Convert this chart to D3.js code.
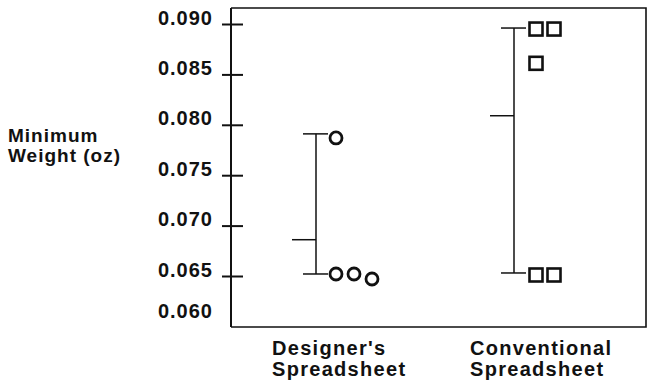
<!DOCTYPE html>
<html>
<head>
<meta charset="utf-8">
<script src="https://cdn.jsdelivr.net/npm/d3@7"></script>
<style>
  html, body { margin: 0; padding: 0; background: #fff; }
  svg { display: block; }
  text { font-family: "Liberation Sans", Arial, sans-serif; font-weight: bold; fill: #111; letter-spacing: 1px; }
</style>
</head>
<body>
<svg id="chart" width="647" height="385"></svg>
<script>
// ---- data ----
const categories = ["Designer's Spreadsheet", "Conventional Spreadsheet"];
const categoryLines = [["Designer's", "Spreadsheet"], ["Conventional", "Spreadsheet"]];
const designerValues = [0.0787, 0.0652, 0.0652, 0.0647];
const conventionalValues = [0.0895, 0.0895, 0.0861, 0.0651, 0.0651];
const rangeLow = [0.0652, 0.0653];
const rangeHigh = [0.0791, 0.0896];
const rangeMean = [0.0686, 0.0809];
const yTicks = [0.060, 0.065, 0.070, 0.075, 0.080, 0.085, 0.090];
const yTitle = ["Minimum", "Weight (oz)"];

// ---- layout ----
const svg = d3.select("#chart");
const pL = 231, pR = 646, pT = 8, pB = 327;

const y = d3.scaleLinear().domain([0.060, 0.090]).range([326.4, 24]);
const x = d3.scalePoint().domain(categories).range([pL + 85, pR - 132]);

// frame: top, right, bottom
svg.append("path")
  .attr("d", `M${pL},${pT}H${pR}V${pB}H${pL}`)
  .attr("fill", "none").attr("stroke", "#111").attr("stroke-width", 1.6);

// y axis
const axis = d3.axisLeft(y).tickValues(yTicks).tickFormat(d3.format(".3f"))
  .tickSizeInner(9).tickSizeOuter(0).tickPadding(9);
const gAxis = svg.append("g").attr("transform", `translate(${pL},0)`).call(axis);
gAxis.select(".domain").remove();
gAxis.append("line").attr("x1", 0).attr("x2", 0).attr("y1", pT).attr("y2", pB)
  .attr("stroke", "#111").attr("stroke-width", 2);
gAxis.selectAll(".tick line")
  .attr("x1", 12).attr("x2", -9)
  .attr("stroke", "#111").attr("stroke-width", 2)
  .attr("display", d => d === 0.060 ? "none" : null);
gAxis.selectAll(".tick text")
  .attr("font-size", 20)
  .attr("font-family", "Liberation Sans, Arial, sans-serif")
  .attr("font-weight", "bold")
  .attr("fill", "#111")
  .attr("dy", d => d === 0.060 ? "-0.45em" : "0");

// y title
svg.append("text").attr("x", 8).attr("y", 142).attr("font-size", 19).text(yTitle[0]);
svg.append("text").attr("x", 8).attr("y", 162).attr("font-size", 19).text(yTitle[1]);

// range bars
const g = svg.append("g");
categories.forEach((c, i) => {
  const cx = x(c);
  g.append("line").attr("x1", cx).attr("x2", cx)
    .attr("y1", y(rangeHigh[i])).attr("y2", y(rangeLow[i]))
    .attr("stroke", "#111").attr("stroke-width", 1.5);
  [rangeHigh[i], rangeLow[i]].forEach(v => {
    g.append("line").attr("x1", cx - 13).attr("x2", cx + 12)
      .attr("y1", y(v)).attr("y2", y(v))
      .attr("stroke", "#111").attr("stroke-width", 1.5);
  });
  g.append("line").attr("x1", cx - 24).attr("x2", cx)
    .attr("y1", y(rangeMean[i])).attr("y2", y(rangeMean[i]))
    .attr("stroke", "#111").attr("stroke-width", 1.5);
});

// slot assignment for markers with (nearly) equal values
function slots(vals) {
  return vals.map((v, i) => vals.slice(0, i).filter(w => Math.abs(w - v) < 0.0008).length);
}

const dSlots = slots(designerValues);
g.selectAll("circle.d").data(designerValues).join("circle")
  .attr("class", "d")
  .attr("cx", (d, i) => x(categories[0]) + 20 + dSlots[i] * 18)
  .attr("cy", d => y(d))
  .attr("r", 6)
  .attr("fill", "none").attr("stroke", "#111").attr("stroke-width", 2.8);

const cSlots = slots(conventionalValues);
g.selectAll("rect.c").data(conventionalValues).join("rect")
  .attr("class", "c")
  .attr("x", (d, i) => x(categories[1]) + 22 + cSlots[i] * 18 - 6.5)
  .attr("y", d => y(d) - 6.5)
  .attr("width", 13).attr("height", 13)
  .attr("fill", "none").attr("stroke", "#111").attr("stroke-width", 2.6);

// category labels
categories.forEach((c, i) => {
  const t = svg.append("text").attr("x", x(c) - 44).attr("y", 355)
    .attr("font-size", 20).style("letter-spacing", "1.3px");
  categoryLines[i].forEach((line, j) => {
    t.append("tspan").attr("x", x(c) - 44).attr("dy", j === 0 ? 0 : 21).text(line);
  });
});
</script>
</body>
</html>
